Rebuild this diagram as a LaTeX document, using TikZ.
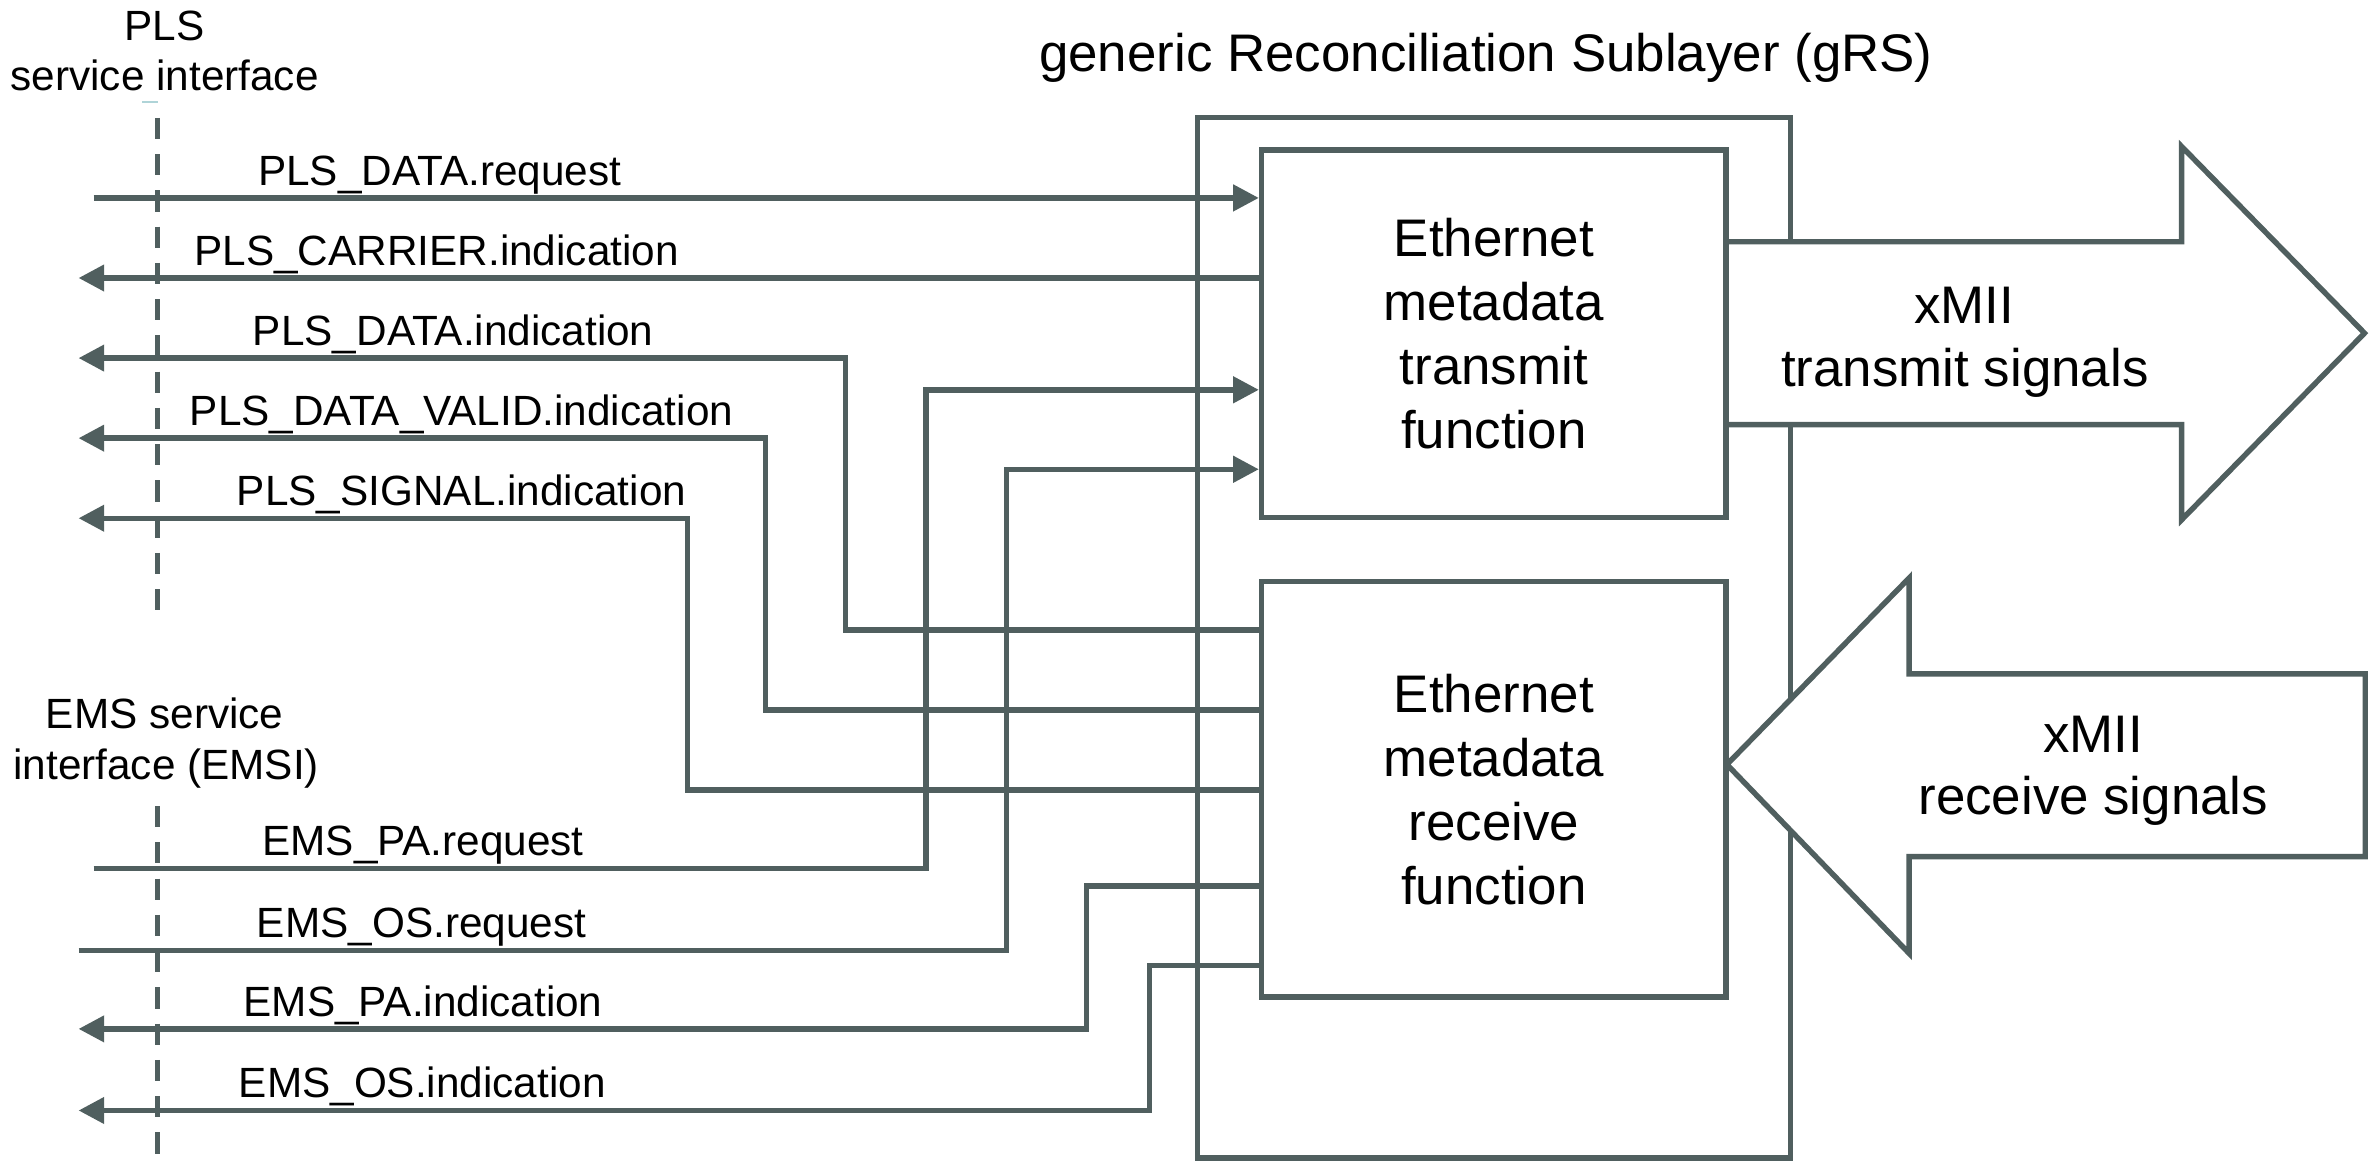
\documentclass[tikz,border=0pt]{standalone}
\usepackage{fontspec}
\setmainfont{Liberation Sans}
\usetikzlibrary{arrows.meta}
\definecolor{lc}{RGB}{80,95,95}
\definecolor{tick}{RGB}{175,212,216}
\begin{document}
\begin{tikzpicture}[x=1pt,y=-1pt,
  sig/.style={draw=lc,line width=3.6pt,line join=miter},
  arr/.style={-{Triangle[length=17pt,width=17pt]}},
  ifc/.style={draw=lc,line width=3.4pt,dash pattern=on 14pt off 10pt},
  fbox/.style={draw=lc,line width=3.6pt,fill=white,minimum width=307.5pt,inner sep=0pt,align=center,font=\fontsize{35}{42.5}\selectfont},
  lbl/.style={anchor=base,inner sep=0pt,font=\fontsize{28}{33}\selectfont},
  big/.style={anchor=base,inner sep=0pt,font=\fontsize{35}{42}\selectfont},
  fat/.style={draw=lc,line width=3.6pt,fill=white,line join=miter}]
\useasboundingbox (0,0) rectangle (1568,772);

% title and interface labels
\node[big] (title) at (983.5,47) {generic Reconciliation Sublayer (gRS)};
\node[lbl] (plsA) at (109,26.5) {PLS};
\node[lbl] (plsB) at (109,59.6) {service interface};
\node[lbl] (emsA) at (109,482) {EMS service};
\node[lbl] (emsB) at (110,516) {interface (EMSI)};

% service interface dashed lines
\coordinate (tickL) at (94,67.5);
\coordinate (tickR) at (104.5,67.5);
\draw[tick,line width=1.3pt] (tickL) -- (tickR);
\coordinate (plsT) at (104,78);
\coordinate (plsE) at (104,406);
\coordinate (emsT) at (104,533.5);
\coordinate (emsE) at (104,770);
\draw[ifc] (plsT) -- (plsE);
\draw[ifc] (emsT) -- (emsE);

% outer gRS box
\node[draw=lc,line width=3.6pt,minimum width=392.5pt,minimum height=688.9pt,inner sep=0pt] (grs) at (988.75,422.05) {};

% functional boxes
\node[fbox,minimum height=243.1pt] (tx) at (988.75,220.85) {Ethernet\\metadata\\transmit\\function};
\node[fbox,minimum height=275pt] (rx) at (988.75,522.5) {Ethernet\\metadata\\receive\\function};

% free ends and bends
\coordinate (pdrL) at (62,131);
\coordinate (pciL) at (52,184);
\coordinate (pdiL) at (52,237);
\coordinate (pdiB) at (559.5,417);
\coordinate (pdvL) at (52,290);
\coordinate (pdvB) at (506.5,470);
\coordinate (psiL) at (52,343);
\coordinate (psiB) at (455,523);
\coordinate (eprL) at (62,575);
\coordinate (eprB) at (613,258);
\coordinate (eorL) at (52,629);
\coordinate (eorB) at (666,310.6);
\coordinate (epiL) at (52,681);
\coordinate (epiB) at (719,586.5);
\coordinate (eoiL) at (52,735);
\coordinate (eoiB) at (761,639);

% signals
\draw[sig,arr] (pdrL) -- (pdrL -| tx.west);
\draw[sig,arr] (pciL -| tx.west) -- (pciL);
\draw[sig,arr] (rx.west |- pdiB) -- (pdiB) |- (pdiL);
\draw[sig,arr] (rx.west |- pdvB) -- (pdvB) |- (pdvL);
\draw[sig,arr] (rx.west |- psiB) -- (psiB) |- (psiL);
\draw[sig,arr] (eprL) -| (eprB) -- (eprB -| tx.west);
\draw[sig,arr] (eorL) -| (eorB) -- (eorB -| tx.west);
\draw[sig,arr] (rx.west |- epiB) -- (epiB) |- (epiL);
\draw[sig,arr] (rx.west |- eoiB) -- (eoiB) |- (eoiL);

% signal labels
\node[lbl] (tpdr) at (291,122.5) {PLS\_DATA.request};
\node[lbl] (tpci) at (289,175.5) {PLS\_CARRIER.indication};
\node[lbl] (tpdi) at (300,228.5) {PLS\_DATA.indication};
\node[lbl] (tpdv) at (305.5,281.5) {PLS\_DATA\_VALID.indication};
\node[lbl] (tpsi) at (305.5,334.5) {PLS\_SIGNAL.indication};
\node[lbl] (tepr) at (280,566.5) {EMS\_PA.request};
\node[lbl] (teor) at (279,620.5) {EMS\_OS.request};
\node[lbl] (tepi) at (280,672.5) {EMS\_PA.indication};
\node[lbl] (teoi) at (279.5,726.5) {EMS\_OS.indication};

% xMII fat arrows
\draw[fat] (1142.5,160) -- (1444,160) -- (1444,97) -- (1565,220.5) -- (1444,344) -- (1444,281) -- (1142.5,281) -- cycle;
\draw[fat] (1143,506) -- (1263.6,382.6) -- (1263.6,446) -- (1565.5,446) -- (1565.5,567) -- (1263.6,567) -- (1263.6,631) -- cycle;
\node[big] (txA) at (1300,214) {xMII};
\node[big] (txB) at (1300.5,256) {transmit signals};
\node[big] (rxA) at (1385.5,498) {xMII};
\node[big] (rxB) at (1385.5,539) {receive signals};
\end{tikzpicture}
\end{document}
